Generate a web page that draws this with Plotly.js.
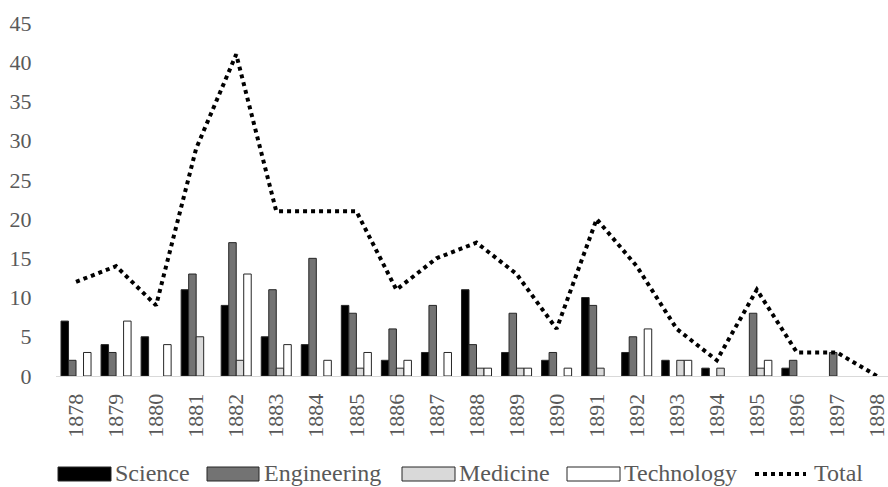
<!DOCTYPE html>
<html>
<head>
<meta charset="utf-8">
<script src="https://cdn.plot.ly/plotly-3.0.1.min.js"></script>
<style>
html,body{margin:0;padding:0;background:#fff;}
#chart{width:888px;height:487px;}
</style>
</head>
<body>
<div id="chart"></div>
<script>
const years = ["1878","1879","1880","1881","1882","1883","1884","1885","1886","1887","1888","1889","1890","1891","1892","1893","1894","1895","1896","1897","1898"];
const science     = [7,4,5,11,9,5,4,9,2,3,11,3,2,10,3,2,1,0,1,0,0];
const engineering = [2,3,0,13,17,11,15,8,6,9,4,8,3,9,5,0,0,8,2,3,0];
const medicine    = [0,0,0,5,2,1,0,1,1,0,1,1,0,1,0,2,1,1,0,0,0];
const technology  = [3,7,4,0,13,4,2,3,2,3,1,1,1,0,6,2,0,2,0,0,0];
const total       = [12,14,9,29,41,21,21,21,11,15,17,13,6,20,14,6,2,11,3,3,0];
const yTicks = [0,5,10,15,20,25,30,35,40,45];

const SERIF = "Times New Roman";
const TXT = "#595959";
const OUTLINE = "#262626";

// plot-area geometry (pixels) used for the hand-drawn legend
const L = 56, R = 888, T = 23, B = 376;
const px = x => (x - L) / (R - L);
const py = y => (B - y) / (B - T);

function bar(name, y, color) {
  return {type: 'bar', name: name, x: years, y: y.map(v => v === 0 ? null : v),
    marker: {color: color, line: {color: OUTLINE, width: 1}}};
}

const traces = [
  bar('Science', science, '#000000'),
  bar('Engineering', engineering, '#737373'),
  bar('Medicine', medicine, '#d9d9d9'),
  bar('Technology', technology, '#ffffff'),
  {type: 'scatter', mode: 'lines', name: 'Total', x: years, y: total,
   line: {color: '#000000', width: 4, dash: 'dot', shape: 'linear'}}
];

const legendItems = [
  {name: 'Science', fill: '#000000', x0: 58, x1: 111, tx: 113},
  {name: 'Engineering', fill: '#737373', x0: 207, x1: 259, tx: 262},
  {name: 'Medicine', fill: '#d9d9d9', x0: 402, x1: 455, tx: 457},
  {name: 'Technology', fill: '#ffffff', x0: 567, x1: 620, tx: 622}
];
const shapes = [];
const annotations = [];
legendItems.forEach(it => {
  shapes.push({type: 'rect', xref: 'paper', yref: 'paper',
    x0: px(it.x0), x1: px(it.x1), y0: py(467), y1: py(481),
    fillcolor: it.fill, line: {color: OUTLINE, width: 1}});
  annotations.push({xref: 'paper', yref: 'paper', x: px(it.tx), y: py(473),
    xanchor: 'left', yanchor: 'middle', showarrow: false, text: it.name,
    font: {family: SERIF, size: 24, color: TXT}});
});
shapes.push({type: 'line', xref: 'paper', yref: 'paper', x0: px(755), x1: px(806),
  y0: py(474), y1: py(474), line: {color: '#000000', width: 4, dash: 'dot'}});
annotations.push({xref: 'paper', yref: 'paper', x: px(812), y: py(473),
  xanchor: 'left', yanchor: 'middle', showarrow: false, text: 'Total',
  font: {family: SERIF, size: 24, color: TXT}});

const layout = {
  width: 888, height: 487,
  margin: {l: L, r: 888 - R, t: T, b: 487 - B, pad: 0},
  showlegend: false,
  barmode: 'group', bargap: 0.25, bargroupgap: 0,
  font: {family: SERIF, color: TXT},
  xaxis: {type: 'category', range: [-0.5, 20.275], showgrid: false, zeroline: false,
    showline: true, linecolor: '#d9d9d9', linewidth: 1,
    ticks: 'outside', ticklen: 8, tickcolor: 'rgba(0,0,0,0)',
    tickangle: -90, tickfont: {family: SERIF, size: 22, color: TXT}},
  yaxis: {range: [0, 45], tickvals: yTicks, ticktext: yTicks.map(String),
    showgrid: false, zeroline: false, showline: false,
    ticks: 'outside', ticklen: 19, tickcolor: 'rgba(0,0,0,0)',
    tickfont: {family: SERIF, size: 22, color: TXT}},
  shapes: shapes,
  annotations: annotations
};

Plotly.newPlot('chart', traces, layout, {displayModeBar: false, staticPlot: true});
</script>
</body>
</html>
